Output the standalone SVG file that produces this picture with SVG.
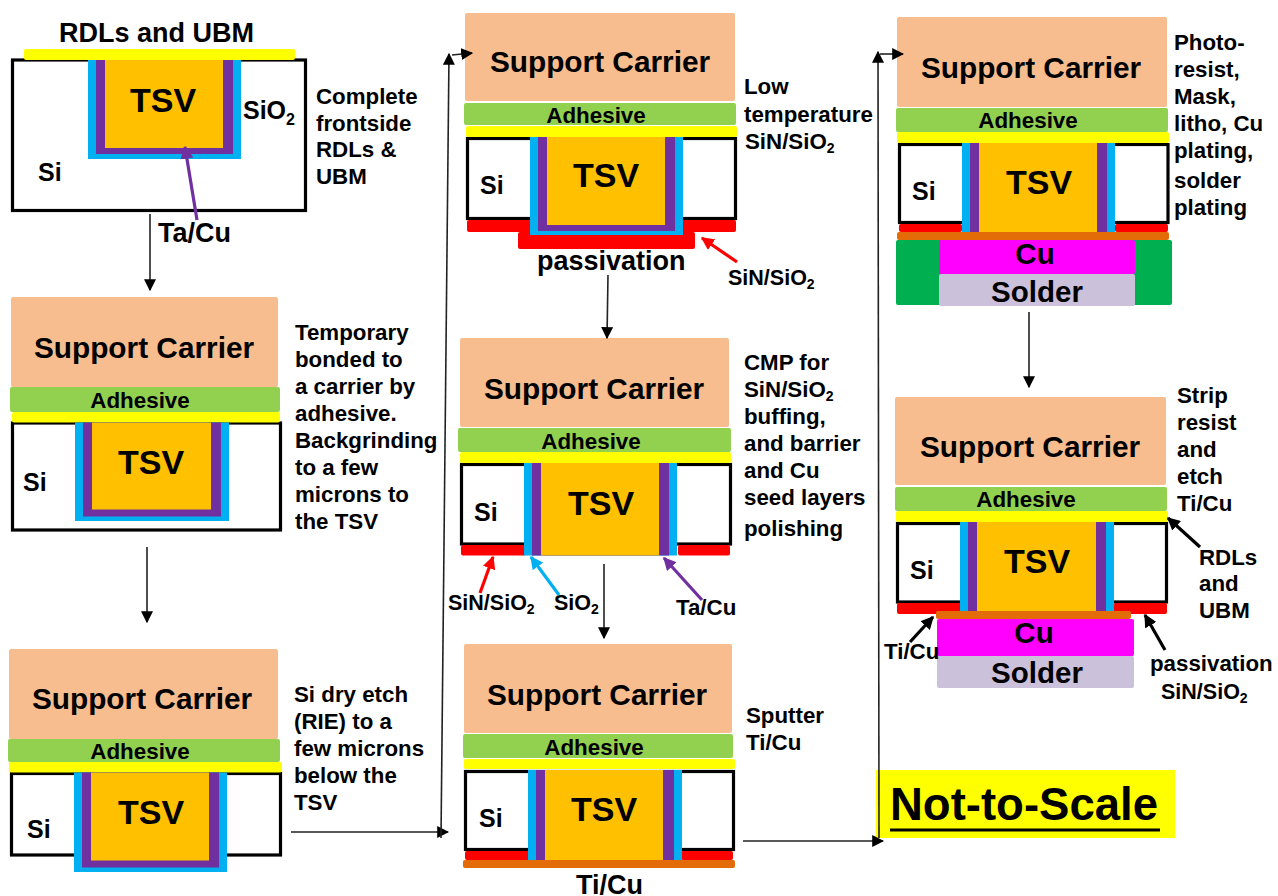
<svg xmlns="http://www.w3.org/2000/svg" width="1278" height="896" viewBox="0 0 1278 896">
<defs>
<marker id="ah" viewBox="0 0 10 10" refX="9" refY="5" markerWidth="12" markerHeight="12" markerUnits="userSpaceOnUse" orient="auto"><path d="M0 0L10 5L0 10z" fill="#000"/></marker>
<marker id="ahk" viewBox="0 0 10 10" refX="9" refY="5" markerWidth="13" markerHeight="13" markerUnits="userSpaceOnUse" orient="auto"><path d="M0 0L10 5L0 10z" fill="#000"/></marker>
<marker id="ahr" viewBox="0 0 10 10" refX="9" refY="5" markerWidth="13" markerHeight="13" markerUnits="userSpaceOnUse" orient="auto"><path d="M0 0L10 5L0 10z" fill="#f00"/></marker>
<marker id="ahb" viewBox="0 0 10 10" refX="9" refY="5" markerWidth="13" markerHeight="13" markerUnits="userSpaceOnUse" orient="auto"><path d="M0 0L10 5L0 10z" fill="#00b0f0"/></marker>
<marker id="ahp" viewBox="0 0 10 10" refX="9" refY="5" markerWidth="13" markerHeight="13" markerUnits="userSpaceOnUse" orient="auto"><path d="M0 0L10 5L0 10z" fill="#7030a0"/></marker>
</defs>
<style>
text{font-family:"Liberation Sans",Arial,sans-serif;font-weight:700;fill:#000;font-size:22.300px}
.sc{font-size:29.800px;text-anchor:middle}
.ad{font-size:22.400px;text-anchor:middle}
.tsv{font-size:34px;text-anchor:middle}
.si{font-size:25px}
.big{font-size:27px}
.mid{font-size:21.500px}
.sub{font-size:14px}
.cu{font-size:29.500px;text-anchor:middle}
.c,.a,.y,.r,.t,.m,.l,.g{rx:2px}
.c{fill:#f8bd8f}.a{fill:#92d050}.y{fill:#ff0}.b{fill:#00b0f0}.p{fill:#7030a0}.o{fill:#ffc000}.r{fill:#f00}.t{fill:#e36c09}.m{fill:#f0f}.l{fill:#ccc1da}.g{fill:#00b050}
.box{fill:#fff;stroke:#000;stroke-width:3.200}
.con{fill:none;stroke:#222;stroke-width:1.600}
.ptr{fill:none;stroke-width:3.200}
</style>
<rect width="1278" height="896" fill="#fff"/>

<g id="panel1">
<rect class="box" x="12.500" y="60" width="293" height="150.500"/>
<rect class="y" x="24" y="49" width="271" height="11"/>
<rect class="b" x="88" y="60" width="153" height="99"/>
<rect class="p" x="96" y="60" width="137" height="94"/>
<rect class="o" x="105" y="60" width="118" height="88"/>
<text class="tsv" x="163" y="112">TSV</text>
<text class="si" x="38" y="181">Si</text>
<text class="si" x="243" y="119">SiO<tspan style="font-size:16px" dy="6">2</tspan></text>
<text class="big" x="59" y="42">RDLs and UBM</text>
<text class="big" x="158" y="242">Ta/Cu</text>
<text><tspan x="316" y="104">Complete</tspan><tspan x="316" y="131">frontside</tspan><tspan x="316" y="157">RDLs &amp;</tspan><tspan x="316" y="184">UBM</tspan></text>
</g>

<g id="panel2">
<rect class="c" x="11" y="297" width="267" height="90"/>
<rect class="box" x="12.500" y="423" width="268" height="107"/>
<rect class="a" x="10" y="387" width="270" height="25"/>
<rect class="y" x="12" y="412" width="268" height="10.500"/>
<rect class="b" x="75" y="422.500" width="154" height="98.500"/>
<rect class="p" x="83" y="422.500" width="138" height="94"/>
<rect class="o" x="92" y="422.500" width="119" height="87"/>
<text class="sc" x="144" y="358">Support Carrier</text>
<text class="ad" x="140" y="408">Adhesive</text>
<text class="tsv" x="151" y="474">TSV</text>
<text class="si" x="23" y="491">Si</text>
<text><tspan x="295" y="340">Temporary</tspan><tspan x="295" y="367">bonded to</tspan><tspan x="295" y="394">a carrier by</tspan><tspan x="295" y="421">adhesive.</tspan><tspan x="295" y="448">Backgrinding</tspan><tspan x="295" y="475">to a few</tspan><tspan x="295" y="502">microns to</tspan><tspan x="295" y="529">the TSV</tspan></text>
</g>

<g id="panel3">
<rect class="c" x="9" y="649" width="269" height="90"/>
<rect class="box" x="11.500" y="773.500" width="269" height="81.500"/>
<rect class="a" x="8" y="739" width="272" height="23"/>
<rect class="y" x="9" y="762" width="273" height="10.500"/>
<rect class="b" x="74" y="772.500" width="153" height="99.500"/>
<rect class="p" x="82" y="772.500" width="137" height="95"/>
<rect class="o" x="91" y="772.500" width="118" height="88"/>
<text class="sc" x="142" y="709">Support Carrier</text>
<text class="ad" x="140" y="759">Adhesive</text>
<text class="tsv" x="151" y="824">TSV</text>
<text class="si" x="27" y="838">Si</text>
<text><tspan x="294" y="702">Si dry etch</tspan><tspan x="294" y="729">(RIE) to a</tspan><tspan x="294" y="756">few microns</tspan><tspan x="294" y="783">below the</tspan><tspan x="294" y="810">TSV</tspan></text>
</g>

<g id="panel4">
<rect class="c" x="465" y="13" width="270" height="88"/>
<rect class="box" x="467.500" y="138.500" width="268" height="80"/>
<rect class="a" x="464" y="103" width="272" height="22"/>
<rect class="y" x="466" y="126" width="271" height="11"/>
<rect class="r" x="467" y="220" width="269" height="12"/>
<rect class="r" x="518" y="232" width="177" height="17"/>
<rect class="b" x="530" y="137" width="153" height="98"/>
<rect class="p" x="538" y="137" width="137" height="94"/>
<rect class="o" x="547" y="137" width="118" height="88"/>
<text class="sc" x="600" y="72">Support Carrier</text>
<text class="ad" x="596" y="123">Adhesive</text>
<text class="tsv" x="606" y="187">TSV</text>
<text class="si" x="480" y="194">Si</text>
<text class="big" x="537" y="270">passivation</text>
<text><tspan x="744" y="94">Low</tspan><tspan x="744" y="122">temperature</tspan><tspan x="745" y="149">SiN/SiO<tspan class="sub" dy="4">2</tspan></tspan></text>
<text class="mid" x="728" y="285">SiN/SiO<tspan class="sub" dy="4">2</tspan></text>
</g>

<g id="panel5">
<rect class="c" x="460" y="338" width="269" height="89"/>
<rect class="box" x="461.500" y="464.500" width="269" height="79.500"/>
<rect class="a" x="458" y="428" width="273" height="24"/>
<rect class="y" x="460" y="452" width="271" height="11"/>
<rect class="r" x="461" y="545" width="65" height="10.500"/>
<rect class="r" x="678" y="545" width="52" height="10.500"/>
<rect class="b" x="524" y="463" width="153" height="92.500"/>
<rect class="p" x="532" y="463" width="137" height="92.500"/>
<rect class="o" x="541" y="463" width="118" height="92.500"/>
<text class="sc" x="594" y="399">Support Carrier</text>
<text class="ad" x="591" y="449">Adhesive</text>
<text class="tsv" x="601" y="515">TSV</text>
<text class="si" x="474" y="521">Si</text>
<text><tspan x="744" y="370">CMP for</tspan><tspan x="744" y="397">SiN/SiO<tspan class="sub" dy="4">2</tspan></tspan><tspan x="744" y="424">buffing,</tspan><tspan x="744" y="451">and barrier</tspan><tspan x="744" y="478">and Cu</tspan><tspan x="744" y="505">seed layers</tspan><tspan x="744" y="536">polishing</tspan></text>
<text class="mid" x="448" y="610">SiN/SiO<tspan class="sub" dy="4">2</tspan></text>
<text class="mid" x="554" y="610">SiO<tspan class="sub" dy="4">2</tspan></text>
<text x="676" y="615">Ta/Cu</text>
</g>

<g id="panel6">
<rect class="c" x="464" y="644" width="268" height="89"/>
<rect class="box" x="465.500" y="771.500" width="268" height="78"/>
<rect class="a" x="463" y="734" width="270" height="24"/>
<rect class="y" x="464" y="759" width="271" height="10"/>
<rect class="r" x="465" y="851" width="65" height="9"/>
<rect class="r" x="681" y="851" width="52" height="9"/>
<rect class="b" x="528" y="770" width="154" height="90"/>
<rect class="p" x="536" y="770" width="138" height="90"/>
<rect class="o" x="545" y="770" width="118" height="90"/>
<rect class="t" x="463" y="860" width="272" height="8"/>
<text class="sc" x="597" y="705">Support Carrier</text>
<text class="ad" x="594" y="755">Adhesive</text>
<text class="tsv" x="604" y="821">TSV</text>
<text class="si" x="479" y="827">Si</text>
<text class="big" x="576" y="894">Ti/Cu</text>
<text><tspan x="746" y="723">Sputter</tspan><tspan x="746" y="750">Ti/Cu</tspan></text>
</g>

<g id="panel7">
<rect class="c" x="897" y="17" width="270" height="90"/>
<rect class="box" x="899.500" y="144.500" width="268.500" height="78"/>
<rect class="a" x="896" y="108" width="272" height="24"/>
<rect class="y" x="897" y="132" width="272" height="11"/>
<rect class="r" x="899" y="224" width="63" height="8"/>
<rect class="r" x="1115" y="224" width="53" height="8"/>
<rect class="b" x="962" y="143" width="153" height="89"/>
<rect class="p" x="970" y="143" width="137" height="89"/>
<rect class="o" x="979" y="143" width="118" height="89"/>
<rect class="t" x="897" y="232" width="272" height="8"/>
<rect class="g" x="896" y="240" width="276" height="65"/>
<rect class="m" x="939" y="240" width="196" height="34"/>
<rect class="l" x="939" y="274" width="196" height="32"/>
<text class="sc" x="1031" y="78">Support Carrier</text>
<text class="ad" x="1028" y="128">Adhesive</text>
<text class="tsv" x="1039" y="194">TSV</text>
<text class="si" x="912" y="200">Si</text>
<text class="cu" x="1035" y="264">Cu</text>
<text class="cu" x="1037" y="302">Solder</text>
<text><tspan x="1174" y="50">Photo-</tspan><tspan x="1174" y="77">resist,</tspan><tspan x="1174" y="104">Mask,</tspan><tspan x="1174" y="131">litho, Cu</tspan><tspan x="1174" y="158">plating,</tspan><tspan x="1174" y="188">solder</tspan><tspan x="1174" y="215">plating</tspan></text>
</g>

<g id="panel8">
<rect class="c" x="895" y="397" width="271" height="88"/>
<rect class="box" x="897.500" y="523.500" width="269" height="78.500"/>
<rect class="a" x="895" y="487" width="272" height="24"/>
<rect class="y" x="896" y="511" width="272" height="11"/>
<rect class="r" x="897" y="603" width="64" height="11"/>
<rect class="r" x="1114" y="603" width="53" height="11"/>
<rect class="b" x="960" y="522" width="154" height="89"/>
<rect class="p" x="968" y="522" width="138" height="89"/>
<rect class="o" x="977" y="522" width="119" height="89"/>
<rect class="t" x="936" y="611" width="195" height="8"/>
<rect class="m" x="937" y="619" width="197" height="37"/>
<rect class="l" x="937" y="656" width="197" height="32"/>
<text class="sc" x="1030" y="457">Support Carrier</text>
<text class="ad" x="1026" y="507">Adhesive</text>
<text class="tsv" x="1037" y="573">TSV</text>
<text class="si" x="910" y="579">Si</text>
<text class="cu" x="1034" y="643">Cu</text>
<text class="cu" x="1037" y="683">Solder</text>
<text><tspan x="1177" y="403">Strip</tspan><tspan x="1177" y="430">resist</tspan><tspan x="1177" y="457">and</tspan><tspan x="1177" y="484">etch</tspan><tspan x="1177" y="511">Ti/Cu</tspan></text>
<text><tspan x="1199" y="565">RDLs</tspan><tspan x="1199" y="591">and</tspan><tspan x="1199" y="618">UBM</tspan></text>
<text x="884" y="659">Ti/Cu</text>
<text x="1150" y="671">passivation</text>
<text class="mid" x="1161" y="699">SiN/SiO<tspan class="sub" dy="4">2</tspan></text>
</g>

<g id="note">
<rect x="876" y="770" width="299" height="68" fill="#ff0"/>
<text x="890" y="820" style="font-size:45.500px">Not-to-Scale</text>
<rect x="890" y="828.500" width="270" height="3" fill="#000"/>
</g>

<g id="connectors">
<path class="con" marker-end="url(#ah)" d="M150 214V290"/>
<path class="con" marker-end="url(#ah)" d="M147 547V622"/>
<path class="con" marker-end="url(#ah)" d="M291 832H448"/>
<path class="con" marker-end="url(#ah)" d="M441 838L449 54"/>
<path class="con" marker-end="url(#ah)" d="M452 55L472 53"/>
<path class="con" marker-end="url(#ah)" d="M608 275L607 338"/>
<path class="con" marker-end="url(#ah)" d="M604 564V638"/>
<path class="con" marker-end="url(#ah)" d="M743 841H883"/>
<path class="con" marker-end="url(#ah)" d="M879 838L878 52"/>
<path class="con" marker-end="url(#ah)" d="M880 54H903"/>
<path class="con" marker-end="url(#ah)" d="M1029 312V387"/>
<path class="ptr" stroke="#7030a0" marker-end="url(#ahp)" d="M197 220L185 147"/>
<path class="ptr" stroke="#f00" marker-end="url(#ahr)" d="M737 262L702 238"/>
<path class="ptr" stroke="#f00" marker-end="url(#ahr)" d="M480 593L493 557"/>
<path class="ptr" stroke="#00b0f0" marker-end="url(#ahb)" d="M559 595L531 557"/>
<path class="ptr" stroke="#7030a0" marker-end="url(#ahp)" d="M702 600L664 558"/>
<path class="ptr" stroke="#000" marker-end="url(#ahk)" d="M1200 547L1168 518"/>
<path class="ptr" stroke="#000" marker-end="url(#ahk)" d="M1165 650L1145 615"/>
<path class="ptr" stroke="#000" marker-end="url(#ahk)" d="M910 642L933 617"/>
</g>
</svg>
